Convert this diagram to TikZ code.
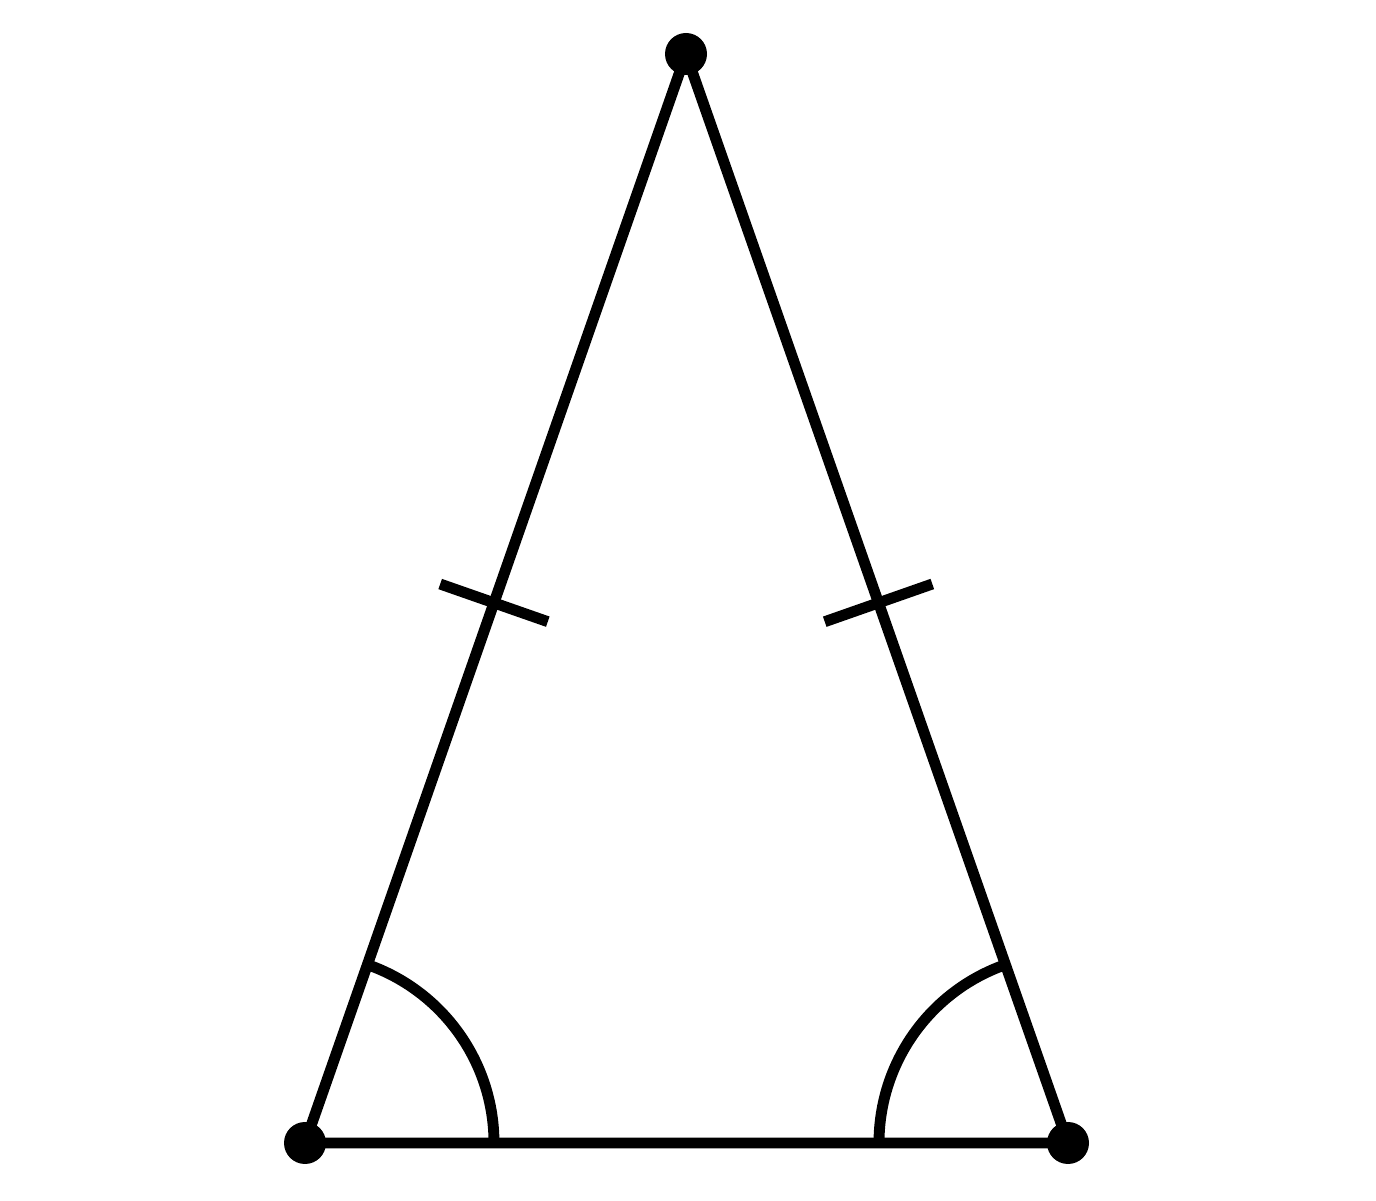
\documentclass[tikz,border=0pt]{standalone}
\usetikzlibrary{calc}
\begin{document}
\begin{tikzpicture}[
  edge/.style={line width=3.1pt, black},
  vdot/.style={circle, fill=black, inner sep=0pt, minimum size=0.42cm}
]
\useasboundingbox (0,0) rectangle (13.76,12);
\coordinate (A) at (3.05,0.57);
\coordinate (B) at (10.68,0.57);
\coordinate (C) at (6.86,11.46);
\draw[edge, line join=round] (A) -- (C) -- (B) -- cycle;
% tick marks
\coordinate (MAC) at ($(A)!0.496!(C)$);
\coordinate (MBC) at ($(B)!0.496!(C)$);
\draw[edge] ($(MAC)!0.57cm!90:(C)$) -- ($(MAC)!0.57cm!-90:(C)$);
\draw[edge] ($(MBC)!0.57cm!90:(C)$) -- ($(MBC)!0.57cm!-90:(C)$);
% angle arcs
\draw[edge] ($(A)+(1.89,0)$) arc[start angle=0, end angle=70.7, radius=1.89];
\draw[edge] ($(B)+(-1.89,0)$) arc[start angle=180, end angle=109.3, radius=1.89];
% vertices
\node[vdot] (vA) at (A) {};
\node[vdot] (vB) at (B) {};
\node[vdot] (vC) at (C) {};
\end{tikzpicture}
\end{document}
